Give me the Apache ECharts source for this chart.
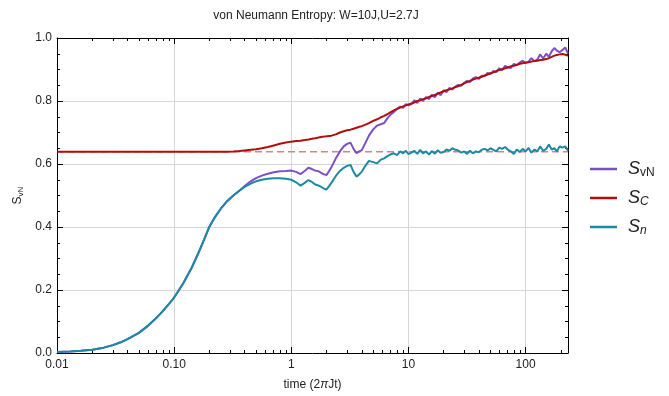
<!DOCTYPE html>
<html>
<head>
<meta charset="utf-8">
<title>von Neumann Entropy</title>
<script src="https://cdn.jsdelivr.net/npm/echarts@6/dist/echarts.min.js"></script>
<style>
  html, body { margin: 0; padding: 0; background: #fff; }
  #chart { width: 669px; height: 396px; }
</style>
</head>
<body>
<div id="chart"></div>
<script>
// Sample times (units of 2*pi*J*t)
const times = [
  0.01, 0.013, 0.016, 0.02, 0.025, 0.03, 0.035, 0.04, 0.05, 0.06, 0.07, 0.08, 0.09,
  0.1, 0.11, 0.12, 0.14, 0.16, 0.18, 0.2, 0.22, 0.25, 0.28, 0.32, 0.36,
  0.4, 0.45, 0.5, 0.56, 0.63, 0.71, 0.8, 0.9, 1.0,
  1.1, 1.2, 1.3, 1.4, 1.5, 1.6, 1.7, 1.8, 1.9, 2.0,
  2.2, 2.4, 2.6, 2.8, 3.0, 3.2, 3.4, 3.6, 3.8, 4.0,
  4.3, 4.6, 5.0, 5.4, 5.8, 6.2, 6.6, 7.0, 7.5, 8.0,
  8.5, 9.0, 9.5, 10,
  10.6, 11.2, 11.9, 12.6, 13.3, 14.1, 15, 15.8, 16.8, 17.8, 18.8, 20,
  21.1, 22.4, 23.7, 25.1, 26.6, 28.2, 29.9, 31.6, 33.5, 35.5, 37.6, 39.8,
  42.2, 44.7, 47.3, 50.1, 53.1, 56.2, 59.6, 63.1, 66.8, 70.8, 75, 79.4,
  84.1, 89.1, 94.4, 100, 106, 112, 119, 126, 133, 141, 150, 158,
  167, 176, 185, 195, 206, 218, 230
];

// Total von Neumann entropy S_vN
const sVN = [
  0.003, 0.005, 0.007, 0.010, 0.017, 0.025, 0.034, 0.044, 0.064, 0.087, 0.110, 0.133, 0.155,
  0.176, 0.200, 0.222, 0.268, 0.315, 0.360, 0.401, 0.428, 0.458, 0.480, 0.500, 0.515,
  0.530, 0.545, 0.555, 0.563, 0.569, 0.574, 0.577, 0.578, 0.579,
  0.575, 0.568, 0.578, 0.588, 0.584, 0.579, 0.577, 0.572, 0.567, 0.565,
  0.590, 0.618, 0.640, 0.656, 0.664, 0.668, 0.648, 0.634, 0.640, 0.644,
  0.668, 0.690, 0.710, 0.722, 0.726, 0.730, 0.745, 0.756, 0.765, 0.775,
  0.782, 0.778, 0.790, 0.786,
  0.790, 0.802, 0.794, 0.808, 0.800, 0.812, 0.806, 0.820, 0.812, 0.826, 0.818, 0.834,
  0.828, 0.842, 0.836, 0.846, 0.851, 0.848, 0.858, 0.864, 0.860, 0.872, 0.876, 0.870,
  0.880, 0.879, 0.889, 0.886, 0.895, 0.892, 0.904, 0.898, 0.912, 0.906, 0.905, 0.918,
  0.913, 0.922, 0.928, 0.920, 0.925, 0.936, 0.926, 0.932, 0.948, 0.935, 0.950, 0.940,
  0.958, 0.968, 0.960, 0.955, 0.962, 0.970, 0.950
];

// Classical part S_C
const sC = [
  0.639, 0.639, 0.639, 0.639, 0.639, 0.639, 0.639, 0.639, 0.639, 0.639, 0.639, 0.639, 0.639,
  0.639, 0.639, 0.639, 0.639, 0.639, 0.639, 0.639, 0.639, 0.639, 0.639, 0.640, 0.641,
  0.643, 0.645, 0.647, 0.650, 0.654, 0.659, 0.664, 0.668, 0.671,
  0.673, 0.674, 0.676, 0.678, 0.680, 0.682, 0.684, 0.686, 0.687, 0.688,
  0.690, 0.694, 0.700, 0.704, 0.707, 0.709, 0.712, 0.715, 0.718, 0.720,
  0.725, 0.730, 0.737, 0.742, 0.748, 0.753, 0.758, 0.764, 0.770, 0.775,
  0.779, 0.783, 0.786, 0.789,
  0.792, 0.795, 0.800, 0.802, 0.806, 0.808, 0.813, 0.816, 0.819, 0.824, 0.827, 0.831,
  0.834, 0.837, 0.840, 0.844, 0.847, 0.851, 0.856, 0.860, 0.864, 0.868, 0.871, 0.874,
  0.877, 0.881, 0.884, 0.888, 0.891, 0.895, 0.898, 0.901, 0.904, 0.907, 0.910, 0.912,
  0.915, 0.918, 0.920, 0.922, 0.923, 0.925, 0.927, 0.928, 0.930, 0.931, 0.933, 0.936,
  0.940, 0.944, 0.946, 0.948, 0.949, 0.947, 0.943
];

// Number part S_n
const sN = [
  0.003, 0.005, 0.007, 0.010, 0.017, 0.025, 0.034, 0.044, 0.064, 0.087, 0.110, 0.133, 0.155,
  0.176, 0.200, 0.222, 0.268, 0.315, 0.360, 0.401, 0.428, 0.458, 0.480, 0.500, 0.515,
  0.527, 0.538, 0.545, 0.550, 0.553, 0.555, 0.555, 0.553, 0.550,
  0.542, 0.531, 0.540, 0.549, 0.543, 0.535, 0.532, 0.527, 0.522, 0.519,
  0.540, 0.562, 0.578, 0.588, 0.594, 0.597, 0.575, 0.560, 0.567, 0.576,
  0.595, 0.610, 0.606, 0.602, 0.614, 0.618, 0.625, 0.630, 0.634, 0.628,
  0.640, 0.634, 0.642, 0.631,
  0.636, 0.642, 0.632, 0.645, 0.634, 0.640, 0.630, 0.641, 0.633, 0.644, 0.636, 0.638,
  0.646, 0.642, 0.650, 0.645, 0.643, 0.636, 0.640, 0.632, 0.642, 0.634, 0.640, 0.637,
  0.645, 0.648, 0.643, 0.650, 0.645, 0.640, 0.652, 0.648, 0.654, 0.645, 0.640, 0.632,
  0.646, 0.638, 0.648, 0.640, 0.651, 0.636, 0.646, 0.640, 0.656, 0.642, 0.648, 0.662,
  0.646, 0.650, 0.640, 0.656, 0.652, 0.656, 0.642
];

// Initial value of S_C, drawn as a dashed reference across the plot
const sCInitial = 0.639;

// Axis ticks
const xMajorTicks = [0.01, 0.1, 1, 10, 100];
const xTickLabels = ['0.01', '0.10', '1', '10', '100'];
const xMinorTicks = [
  0.02, 0.03, 0.04, 0.05, 0.06, 0.07, 0.08, 0.09,
  0.2, 0.3, 0.4, 0.5, 0.6, 0.7, 0.8, 0.9,
  2, 3, 4, 5, 6, 7, 8, 9,
  20, 30, 40, 50, 60, 70, 80, 90,
  200
];
const xMin = 0.01, xMax = 230;

const FONT = '"Liberation Sans", Arial, Helvetica, sans-serif';
const INK = '#222';
const GRIDC = '#d6d6d6';

const pairs = (ys) => times.map((t, i) => [t, ys[i]]);

function xLabel(v) {
  for (let i = 0; i < xMajorTicks.length; i++) {
    if (Math.abs(Math.log10(v) - Math.log10(xMajorTicks[i])) < 1e-6) return xTickLabels[i];
  }
  return '';
}

const legendRich = {
  s: { fontFamily: FONT, fontSize: 18, fontStyle: 'italic', color: INK, lineHeight: 20, verticalAlign: 'middle', padding: [0, 0, 0, 6] },
  sub: { fontFamily: FONT, fontSize: 12, color: INK, verticalAlign: 'bottom' },
  subi: { fontFamily: FONT, fontSize: 12, fontStyle: 'italic', color: INK, verticalAlign: 'bottom' }
};
const legendText = {
  SvN: '{s|S}{sub|vN}',
  SC: '{s|S}{subi|C}',
  Sn: '{s|S}{subi|n}'
};

// Minor ticks on a log axis sit at 2..9 of each decade; they are drawn by a
// companion value axis that spans the same range in log10 units.
const minorAxis = (position) => ({
  type: 'value', gridIndex: 0, position: position,
  min: Math.log10(xMin), max: Math.log10(xMax),
  axisLine: { show: false, onZero: false },
  axisTick: { show: true, inside: true, length: 3, customValues: xMinorTicks.map(Math.log10), lineStyle: { color: '#000' } },
  axisLabel: { show: false },
  splitLine: { show: false }
});

const frameLine = { show: true, onZero: false, lineStyle: { color: '#000', width: 1 } };

const option = {
  animation: false,
  backgroundColor: '#fff',
  title: {
    text: 'von Neumann Entropy: W=10J,U=2.7J',
    left: 311, top: 5, textAlign: 'center',
    textStyle: { fontFamily: FONT, fontSize: 12, fontWeight: 'normal', color: INK }
  },
  grid: { left: 57, right: 101, top: 38, bottom: 43 },
  legend: {
    orient: 'vertical', left: 590, top: 160, padding: 0,
    itemWidth: 27, itemHeight: 2.5, itemGap: 10,
    icon: 'rect',
    data: ['SvN', 'SC', 'Sn'],
    formatter: (name) => legendText[name],
    textStyle: { rich: legendRich }
  },
  xAxis: [
    {
      type: 'log', logBase: 10, min: xMin, max: xMax, gridIndex: 0,
      position: 'bottom',
      name: 'time (2{pi|π}Jt)',
      nameLocation: 'middle', nameGap: 26,
      nameTextStyle: {
        fontFamily: FONT, fontSize: 12, color: INK,
        rich: { pi: { fontFamily: FONT, fontSize: 12, fontStyle: 'italic', color: INK } }
      },
      axisLine: frameLine,
      axisTick: { show: true, inside: true, length: 6, lineStyle: { color: '#000' } },
      axisLabel: { formatter: xLabel, showMaxLabel: false, fontFamily: FONT, fontSize: 12, color: INK, margin: 6 },
      splitLine: { show: true, lineStyle: { color: GRIDC, width: 1 } }
    },
    minorAxis('bottom'),
    {
      type: 'log', logBase: 10, min: xMin, max: xMax, gridIndex: 0,
      position: 'top',
      axisLine: frameLine,
      axisTick: { show: true, inside: true, length: 6, lineStyle: { color: '#000' } },
      axisLabel: { show: false },
      splitLine: { show: false }
    },
    minorAxis('top')
  ],
  yAxis: [
    {
      type: 'value', min: 0, max: 1, interval: 0.2, position: 'left',
      name: '{s|S}{sub|vN}',
      nameLocation: 'middle', nameGap: 27, nameRotate: 90,
      nameTextStyle: {
        rich: {
          s: { fontFamily: FONT, fontSize: 12, color: INK, lineHeight: 14, verticalAlign: 'middle' },
          sub: { fontFamily: FONT, fontSize: 8, color: INK, verticalAlign: 'bottom' }
        }
      },
      axisLine: frameLine,
      axisTick: { show: true, inside: true, length: 6, lineStyle: { color: '#000' } },
      minorTick: { show: true, splitNumber: 4, length: 3, lineStyle: { color: '#000' } },
      axisLabel: { formatter: (v) => v.toFixed(1), fontFamily: FONT, fontSize: 12, color: INK, margin: 5 },
      splitLine: { show: true, lineStyle: { color: GRIDC, width: 1 } }
    },
    {
      type: 'value', min: 0, max: 1, interval: 0.2, position: 'right',
      axisLine: frameLine,
      axisTick: { show: true, inside: true, length: 6, lineStyle: { color: '#000' } },
      minorTick: { show: true, splitNumber: 4, length: 3, lineStyle: { color: '#000' } },
      axisLabel: { show: false },
      splitLine: { show: false }
    }
  ],
  series: [
    {
      name: 'SC initial', type: 'line', xAxisIndex: 0, yAxisIndex: 0,
      data: [[times[0], sCInitial], [times[times.length - 1], sCInitial]],
      showSymbol: false, symbol: 'none', silent: true, z: 1,
      lineStyle: { color: '#df8181', width: 1.6, type: [7, 4] }
    },
    {
      name: 'SvN', type: 'line', xAxisIndex: 0, yAxisIndex: 0,
      data: pairs(sVN), showSymbol: false, symbol: 'none', z: 2,
      color: '#7b4fc6',
      lineStyle: { color: '#7b4fc6', width: 2 }
    },
    {
      name: 'Sn', type: 'line', xAxisIndex: 0, yAxisIndex: 0,
      data: pairs(sN), showSymbol: false, symbol: 'none', z: 3,
      color: '#1b8aa4',
      lineStyle: { color: '#1b8aa4', width: 2 }
    },
    {
      name: 'SC', type: 'line', xAxisIndex: 0, yAxisIndex: 0,
      data: pairs(sC), showSymbol: false, symbol: 'none', z: 4,
      color: '#b10d0d',
      lineStyle: { color: '#b10d0d', width: 2 }
    }
  ]
};

const chart = echarts.init(document.getElementById('chart'), null, { renderer: 'canvas' });
chart.setOption(option);
</script>
</body>
</html>
